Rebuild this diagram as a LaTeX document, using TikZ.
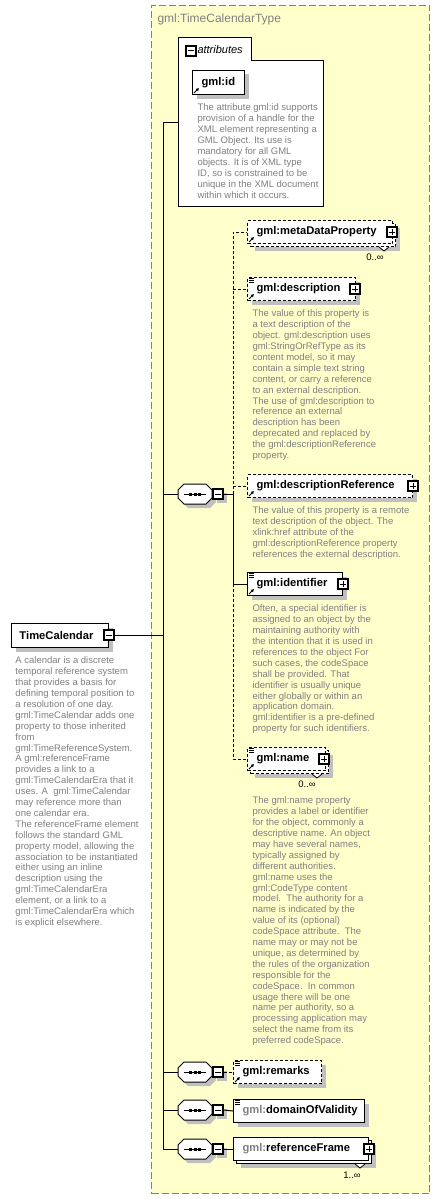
\documentclass[tikz,border=0pt]{standalone}
\usepackage{fontspec}
\setmainfont{Liberation Sans}
\usetikzlibrary{shadows,arrows.meta,calc}
\definecolor{yellowc}{RGB}{255,255,204}
\definecolor{yborder}{RGB}{128,128,128}
\definecolor{shadowc}{RGB}{192,192,192}
\definecolor{descc}{RGB}{128,128,128}
\tikzset{
  shadowed/.style={general shadow={fill=shadowc, shadow xshift=4pt, shadow yshift=-4pt}},
  elbox/.style={rectangle, draw=black, fill=white, line width=1pt, anchor=north west,
    inner xsep=9pt, inner ysep=0pt, minimum height=23pt, align=left,
    font=\fontsize{11.2}{13}\selectfont\bfseries},
  optbox/.style={dash pattern=on 3pt off 2pt},
  optline/.style={dash pattern=on 3pt off 2pt},
  desc/.style={anchor=north west, inner sep=0pt, align=left, text=descc,
    font=\fontsize{9.5}{10.9}\selectfont},
  mult/.style={inner sep=0pt, font=\fontsize{9.5}{11}\selectfont},
  plusbox/.style={rectangle, draw=black, fill=white, line width=1.2pt, minimum size=10pt, inner sep=0pt,
    path picture={\draw[line width=1pt] ($(path picture bounding box.west)+(2pt,0)$) -- ($(path picture bounding box.east)+(-2pt,0)$);
      \draw[line width=1pt] ($(path picture bounding box.north)+(0,-2pt)$) -- ($(path picture bounding box.south)+(0,2pt)$);}},
  minusbox/.style={rectangle, draw=black, fill=white, line width=1.2pt, minimum size=10pt, inner sep=0pt,
    path picture={\draw[line width=1pt] ($(path picture bounding box.west)+(2pt,0)$) -- ($(path picture bounding box.east)+(-2pt,0)$);}},
  refarrow/.style={line width=1pt, -{Latex[length=3pt,width=3.5pt]}},
  notch/.style={fill=white, line width=0.8pt}
}
\newcommand\mkseq[2]{%
  \draw[fill=white, shadowed] (184,#2-10) -- (206,#2-10) -- (212,#2-4) -- (212,#2+4) -- (206,#2+10) -- (184,#2+10) -- (178,#2+4) -- (178,#2-4) -- cycle;
  \node[inner sep=0pt, minimum width=34pt, minimum height=20pt] (#1) at (195,#2) {};
  \draw (184,#2) -- (206,#2);
  \foreach \dx in {190.5,195,199.5} \fill (\dx-1.5,#2-1.5) rectangle (\dx+1.5,#2+1.5);
  \node[minusbox, shadowed] (#1m) at (218,#2) {};
}
\newcommand\lines[1]{\foreach \k in {1,3,5} \draw[line width=0.8pt] ($(#1.north west)+(2pt,-\k pt)$) -- ++(5,0);}
\newcommand\refarr[1]{\draw[refarrow] ($(#1.south west)+(2pt,2pt)$) -- ++(5,-5);}
\begin{document}
\begin{tikzpicture}[x=1pt,y=-1pt,line width=1pt]
\useasboundingbox (0,0) rectangle (440,1199);
% complex type background
\node[draw=yborder, fill=yellowc, dash pattern=on 7pt off 3pt, minimum width=278pt, minimum height=1188pt,
  anchor=north west, inner sep=0pt] (ctype) at (151,5) {};
\node[anchor=west, inner sep=0pt, text=descc, font=\fontsize{12}{14}\selectfont] (title) at (157,19) {gml:TimeCalendarType};

% attributes group
\draw[fill=white] (178,38) -- (251,38) -- (251,61) -- (323,61) -- (323,206) -- (178,206) -- cycle;
\node[inner sep=0pt, minimum width=145pt, minimum height=168pt, anchor=north west] (attr) at (178,38) {};
\node[minusbox] (attrm) at (191,51) {};
\node[anchor=west, inner sep=0pt, font=\fontsize{11}{13}\selectfont\itshape] (attrl) at (197,50) {attributes};
\node[elbox, shadowed, minimum height=24pt, text width=34pt] (gid) at (192,70) {gml:id};
\refarr{gid}
\node[desc] (giddesc) at (197,103.5) {The attribute gml:id supports\\provision of a handle for the\\XML element representing a\\GML Object. Its use is\\mandatory for all GML\\objects. It is of XML type\\ID, so is constrained to be\\unique in the XML document\\within which it occurs.};

% root element
\node[elbox, shadowed, minimum height=24pt, inner xsep=8pt, text width=81pt] (tc) at (11,623) {TimeCalendar};
\node[minusbox] (tcm) at (109,635) {};
\node[desc] (tcdesc) at (15,656.5) {A calendar is a discrete\\temporal reference system\\that provides a basis for\\defining temporal position to\\a resolution of one day.\\gml:TimeCalendar adds one\\property to those inherited\\from\\gml:TimeReferenceSystem.\\A gml:referenceFrame\\provides a link to a\\gml:TimeCalendarEra that it\\uses. A\ \ gml:TimeCalendar\\may reference more than\\one calendar era.\\The referenceFrame element\\follows the standard GML\\property model, allowing the\\association to be instantiated\\either using an inline\\description using the\\gml:TimeCalendarEra\\element, or a link to a\\gml:TimeCalendarEra which\\is explicit elsewhere.};

% spine
\coordinate (spT) at (163,122);
\coordinate (spB) at (163,1149);
\draw (attr.west |- spT) -- (spT) -- (spB);
\draw (tcm.east) -- (tcm.east -| spT);

% sequences
\mkseq{s1}{494}
\mkseq{s2}{1072}
\mkseq{s3}{1110}
\mkseq{s4}{1149}
\foreach \s in {s1,s2,s3,s4} \draw (\s.west) -- (\s.west -| spT);

% children of first sequence
\node[elbox, optbox, shadowed, text width=127pt] (mdb) at (250,223) {};
\draw[notch] ($(mdb.south east)+(-17pt,0)$) -- ++(5,4) -- ++(5,-4);
\node[elbox, optbox, text width=127pt] (md) at (247,220) {\mbox{gml:metaDataProperty}};
\refarr{md}
\node[plusbox] (mdp) at ($(md.east)+(-1pt,0)$) {};
\node[mult] (mdm) at (375,257) {0..∞};

\node[elbox, optbox, shadowed, text width=90pt] (desc) at (247,277) {\mbox{gml:description}};
\lines{desc}
\refarr{desc}
\node[plusbox] (descp) at ($(desc.east)+(-1pt,0)$) {};
\node[desc] (descdesc) at (252,309.5) {The value of this property is\\a text description of the\\object. gml:description uses\\gml:StringOrRefType as its\\content model, so it may\\contain a simple text string\\content, or carry a reference\\to an external description.\\The use of gml:description to\\reference an external\\description has been\\deprecated and replaced by\\the gml:descriptionReference\\property.};

\node[elbox, optbox, shadowed, text width=147pt] (dr) at (247,474) {\mbox{gml:descriptionReference}};
\refarr{dr}
\node[plusbox] (drp) at (dr.east) {};
\node[desc] (drdesc) at (252,506.5) {The value of this property is a remote\\text description of the object. The\\xlink:href attribute of the\\gml:descriptionReference property\\references the external description.};

\node[elbox, shadowed, text width=77pt] (ident) at (247,572) {\mbox{gml:identifier}};
\lines{ident}
\refarr{ident}
\node[plusbox] (identp) at (ident.east) {};
\node[desc] (identdesc) at (252,604.5) {Often, a special identifier is\\assigned to an object by the\\maintaining authority with\\the intention that it is used in\\references to the object For\\such cases, the codeSpace\\shall be provided. That\\identifier is usually unique\\either globally or within an\\application domain.\\gml:identifier is a pre-defined\\property for such identifiers.};

\node[elbox, optbox, shadowed, text width=60pt] (nameb) at (250,750) {};
\draw[notch] ($(nameb.south east)+(-17pt,0)$) -- ++(5,4) -- ++(5,-4);
\node[elbox, optbox, text width=60pt] (name) at (247,747) {\mbox{gml:name}};
\lines{name}
\refarr{name}
\node[plusbox] (namep) at ($(name.east)+(-2pt,0)$) {};
\node[mult] (namem) at (307,784) {0..∞};
\node[desc] (namedesc) at (252,796.5) {The gml:name property\\provides a label or identifier\\for the object, commonly a\\descriptive name. An object\\may have several names,\\typically assigned by\\different authorities.\\gml:name uses the\\gml:CodeType content\\model.\ \ The authority for a\\name is indicated by the\\value of its (optional)\\codeSpace attribute.\ \ The\\name may or may not be\\unique, as determined by\\the rules of the organization\\responsible for the\\codeSpace.\ \ In common\\usage there will be one\\name per authority, so a\\processing application may\\select the name from its\\preferred codeSpace.};

% connectors of first sequence
\coordinate (v1) at (233,494);
\draw (s1m.east) -- (v1);
\draw[optline] (v1) -- (v1 |- md.west) -- (md.west);
\draw[optline] (v1 |- desc.west) -- (desc.west);
\draw[optline] (v1 |- dr.west) -- (dr.west);
\draw (v1) -- (v1 |- ident.west) -- (ident.west);
\draw[optline] (v1 |- ident.west) -- (v1 |- name.west) -- (name.west);

% remarks
\node[elbox, optbox, shadowed, text width=70pt] (rem) at (233,1060) {\mbox{gml:remarks}};
\lines{rem}
\refarr{rem}
\draw[optline] (s2m.east) -- (rem.west);

% domainOfValidity
\node[elbox, shadowed, text width=113pt] (dov) at (233,1099) {\mbox{{\color{descc}gml:}domainOfValidity}};
\lines{dov}
\draw (s3m.east) -- (dov.west);

% referenceFrame
\node[elbox, shadowed, text width=117pt] (rfb) at (236,1140) {};
\draw[notch] ($(rfb.south east)+(-17pt,0)$) -- ++(5,4) -- ++(5,-4);
\node[elbox, text width=117pt] (rf) at (233,1137) {\mbox{{\color{descc}gml:}referenceFrame}};
\node[plusbox] (rfp) at (rf.east) {};
\node[mult] (rfm) at (352,1175) {1..∞};
\draw (s4m.east) -- (rf.west);
\end{tikzpicture}
\end{document}
